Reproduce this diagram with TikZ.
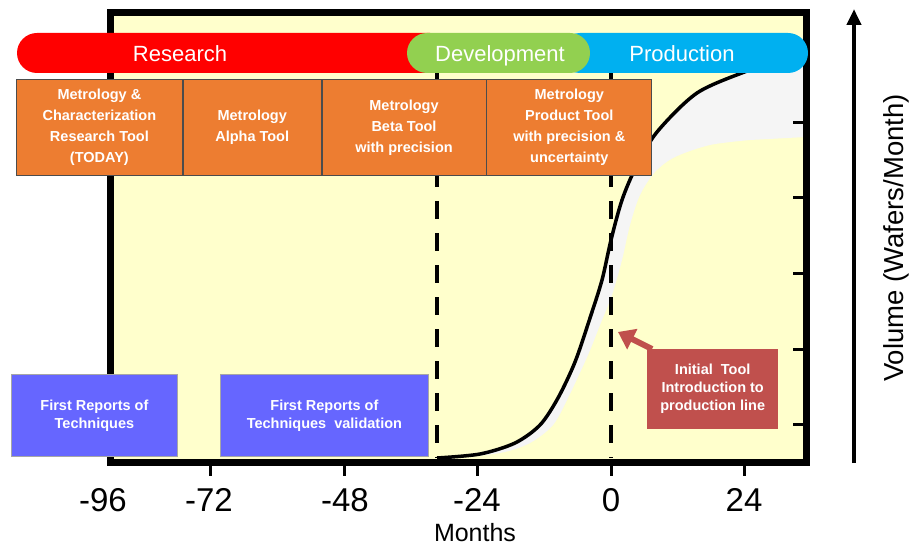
\documentclass[tikz,border=0pt]{standalone}
\usepackage{fontspec}
\setmainfont{Liberation Sans}
\usepackage{xcolor}
\usepackage{tikz}
\usetikzlibrary{arrows.meta, positioning}

\definecolor{plotbg}{HTML}{FFFFCC}
\definecolor{phasered}{HTML}{FF0000}
\definecolor{phasegreen}{HTML}{92D050}
\definecolor{phaseblue}{HTML}{00B0F0}
\definecolor{toolorange}{HTML}{ED7D31}
\definecolor{reportblue}{HTML}{6666FF}
\definecolor{callred}{HTML}{C0504D}

\begin{document}
\begin{tikzpicture}[
  x=1pt, y=-1pt,
  toolbox/.style={draw=gray!60!black, line width=0.8pt, fill=toolorange, text=white,
                  font=\fontsize{14.5}{21}\selectfont\bfseries, align=center,
                  minimum height=96pt, inner sep=2pt, anchor=north west},
  reportbox/.style={draw=gray!70, line width=0.8pt, fill=reportblue, text=white,
                    font=\fontsize{14.5}{18}\selectfont\bfseries, align=center,
                    minimum height=82pt, inner sep=2pt, anchor=north west},
  callbox/.style={fill=callred, text=white, font=\fontsize{14.5}{18}\selectfont\bfseries,
                  align=center, minimum width=131pt, minimum height=80pt, anchor=north west},
  phasetext/.style={text=white, font=\fontsize{22}{26}\selectfont,
                    text height=16pt, text depth=4pt},
  ticklabel/.style={font=\fontsize{33}{36}\selectfont},
  dashline/.style={line width=4pt, dash pattern=on 18pt off 14pt},
  tickmark/.style={line width=3pt},
  callarr/.style={-{Triangle[length=16pt, width=22pt]}, line width=6pt, callred},
  axarr/.style={-{Triangle[length=16pt, width=14pt]}, line width=4pt}
]
  \useasboundingbox (0,0) rectangle (910,548);

  % plot area
  \fill[plotbg] (110,13) rectangle (806,462);

  % uncertainty band
  \fill[black!4] plot[smooth] coordinates {(437,458) (480,454) (515,443) (540,425) (558,398)
      (575,362) (590,318) (602,280) (611,240) (622,200) (636,167) (657,132) (697,93)
      (747,71) (775,62)}
    -- (806,55) -- (806,137)
    -- plot[smooth] coordinates {(750,140) (710,145) (675,157) (655,172) (640,195)
      (630,225) (622,260) (612,295) (600,325) (588,355) (568,398) (553,425) (530,443)
      (500,453) (445,459)} -- cycle;

  % phase boundaries
  \draw[dashline] (437,73) -- (437,458);
  \draw[dashline] (611,73) -- (611,458);

  % volume ramp
  \draw[line width=3.5pt] plot[smooth] coordinates {(437,458) (480,454) (515,443) (540,425)
      (558,398) (575,362) (590,318) (602,280) (611,240) (622,200) (636,167) (657,132)
      (697,93) (747,71) (775,62)};

  % frame and ticks
  \draw[line width=7pt] (110,13) rectangle (806,462);
  \foreach \x in {210,344,477,611,744}
    \draw[tickmark] (\x,465) -- (\x,476);
  \foreach \y in {123,198,273,349,424}
    \draw[tickmark] (803,\y) -- (793,\y);

  % phases
  \fill[phasered, rounded corners=20pt] (17,33) rectangle (450,73);
  \fill[phaseblue, rounded corners=20pt] (560,33) rectangle (808,73);
  \fill[phasegreen, rounded corners=20pt] (407,33) rectangle (590,73);
  \node[phasetext] (research) at (180,55.5) {Research};
  \node[phasetext] (develop) at (500,55.5) {Development};
  \node[phasetext] (product) at (682,55.5) {Production};

  % tool generations
  \node[toolbox, minimum width=166pt] (m1) at (16,79)
    {Metrology \&\\Characterization\\Research Tool\\(TODAY)};
  \node[toolbox, minimum width=138pt, right=0pt of m1.north east, anchor=north west] (m2)
    {Metrology\\Alpha Tool};
  \node[toolbox, minimum width=164pt, right=0pt of m2.north east, anchor=north west] (m3)
    {Metrology\\Beta Tool\\with precision};
  \node[toolbox, minimum width=165pt, right=0pt of m3.north east, anchor=north west] (m4)
    {Metrology\\Product Tool\\with precision \&\\uncertainty};

  % reports
  \node[reportbox, minimum width=166pt] (r1) at (11,374) {First Reports of\\Techniques};
  \node[reportbox, minimum width=208pt] (r2) at (220,374)
    {First Reports of\\Techniques\ \ validation};

  % tool introduction
  \node[callbox] (callout) at (647,349) {Initial\ \ Tool\\Introduction to\\production line};
  \coordinate (tip) at (618,332);
  \draw[callarr] ([xshift=5pt]callout.north west) -- (tip);

  % axes labels
  \node[ticklabel] (t96) at (103,500) {-96};
  \node[ticklabel] (t72) at (209,500) {-72};
  \node[ticklabel] (t48) at (345,500) {-48};
  \node[ticklabel] (t24) at (477,500) {-24};
  \node[ticklabel] (t0) at (611,500) {0};
  \node[ticklabel] (tp24) at (744,500) {24};
  \node[font=\fontsize{25}{28}\selectfont, inner sep=1pt] (months) at (475,533) {Months};

  \coordinate (ybot) at (854,463);
  \coordinate (ytop) at (854,9);
  \draw[axarr] (ybot) -- (ytop);
  \node[font=\fontsize{27.5}{30}\selectfont, rotate=90] (volume) at (896,238)
    {Volume (Wafers/Month)};
\end{tikzpicture}
\end{document}
